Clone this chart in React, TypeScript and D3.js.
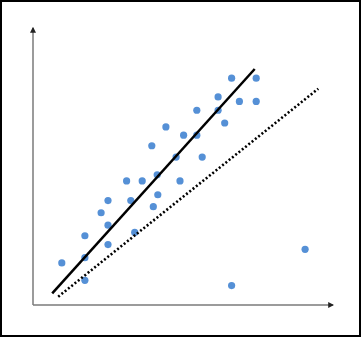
import React from "react";
import * as d3 from "d3";

const xs = [66.2, 74.4, 61.7, 68.8, 74.4, 54.6, 61.7, 63.9, 44.3, 50.2, 54.6, 39.6, 47.7, 56.4, 41.4, 31.2, 36.4, 49.0, 41.6, 25.0, 32.6, 40.1, 22.7, 25.0, 33.9, 17.3, 25.0, 90.7, 9.6, 17.3, 17.3, 66.2];
const ys = [81.9, 81.9, 75.1, 73.5, 73.5, 70.3, 70.3, 65.7, 64.3, 61.3, 61.3, 57.5, 53.4, 53.4, 47.0, 44.8, 44.8, 44.8, 39.8, 37.7, 37.7, 35.5, 33.3, 28.8, 26.2, 25.0, 21.8, 20.1, 15.2, 17.1, 8.9, 7.0];
const solidLine = [[6.4, 4.2], [73.9, 85.2]];
const dottedLine = [[8.4, 3.0], [95.1, 78.1]];

const W = 361;
const H = 337;

export default function App() {
  const x = d3.scaleLinear().domain([0, 100]).range([33, 333]);
  const y = d3.scaleLinear().domain([0, 100]).range([305, 28]);
  const line = d3
    .line<number[]>()
    .x((d) => x(d[0]))
    .y((d) => y(d[1]));
  return (
    <svg width={W} height={H} style={{ position: "absolute", left: 0, top: 0 }}>
      <defs>
        <marker id="arr" viewBox="0 0 10 10" refX="8" refY="5" markerWidth="4" markerHeight="4" orient="auto">
          <path d="M0,0 L10,5 L0,10 z" fill="#222" />
        </marker>
      </defs>
      <rect x={0} y={0} width={W} height={H} fill="#fff" />
      <rect x={1} y={1} width={W - 2} height={H - 2} fill="none" stroke="#000" strokeWidth={2} />
      <line x1={x(0)} y1={y(0)} x2={x(0)} y2={y(100)} stroke="#7a7a7a" strokeWidth={1.5} markerEnd="url(#arr)" />
      <line x1={x(0)} y1={y(0)} x2={x(100)} y2={y(0)} stroke="#7a7a7a" strokeWidth={1.5} markerEnd="url(#arr)" />
      {xs.map((v, i) => (
        <circle key={i} cx={x(v)} cy={y(ys[i])} r={3.6} fill="#5590d6" />
      ))}
      <path d={line(solidLine) || ""} stroke="#000" strokeWidth={2.5} fill="none" />
      <path d={line(dottedLine) || ""} stroke="#000" strokeWidth={2.6} strokeDasharray="2 2.2" fill="none" />
    </svg>
  );
}
